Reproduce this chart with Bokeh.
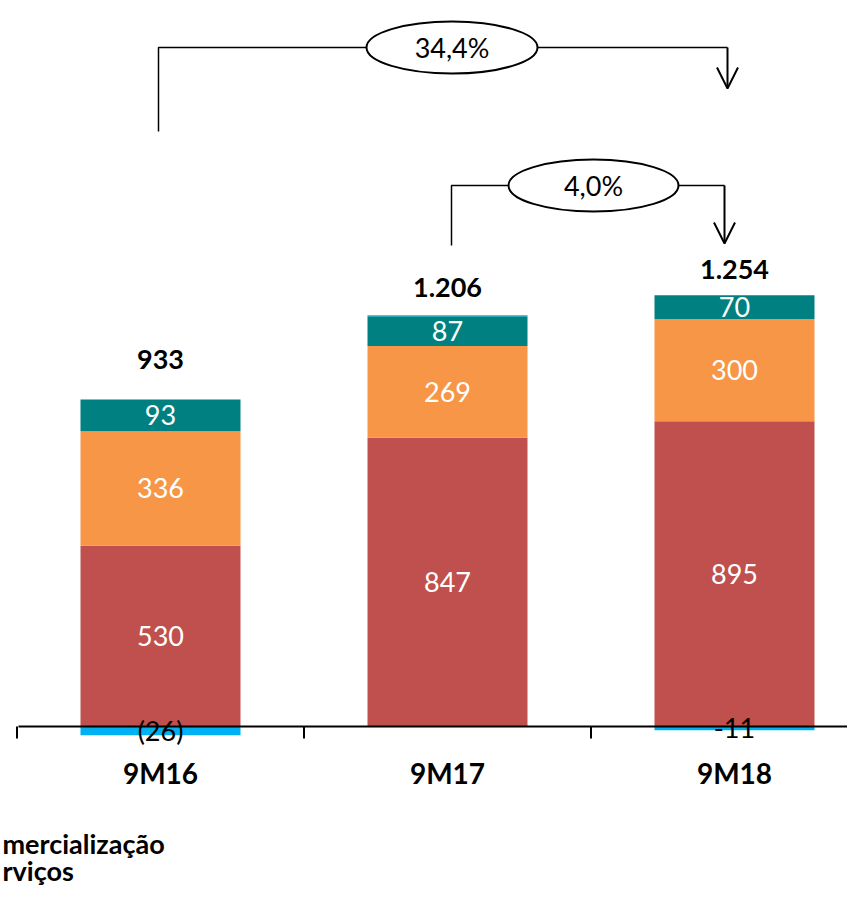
from bokeh.plotting import figure
from bokeh.models import Range1d, Arrow, OpenHead, ColumnDataSource
from bokeh.core.properties import value
from bokeh.embed import file_html
from bokeh.resources import INLINE

# ---------------- data ----------------
categories = ["9M16", "9M17", "9M18"]
seg_red = [530, 847, 895]
seg_orange = [336, 269, 300]
seg_teal = [93, 87, 70]
seg_blue = [-26, 3, -11]
blue_labels = ["(26)", "", "-11"]
growth_labels = ["34,4%", "4,0%"]
legend_texts = ["mercialização", "rviços"]

# ---------------- styles ----------------
C_RED = "#C0504D"
C_ORANGE = "#F79646"
C_TEAL = "#008080"
C_BLUE = "#00B0F0"
FONT = "Lato"

W, H = 847, 890
# pixel geometry (picture coordinates)
X0, DX = 160.0, 287.0      # centre of first category, spacing
Y0, SY = 726.0, 0.341      # baseline pixel, pixels per unit
PAGE_L, PAGE_T = 0, 0

def px_x(px):
    return (px - X0) / DX

def px_y(py):
    return (Y0 - py) / SY

p = figure(width=W, height=H, output_backend="svg", toolbar_location=None,
           x_range=Range1d(px_x(PAGE_L), px_x(PAGE_L + W)),
           y_range=Range1d(px_y(PAGE_T + H), px_y(PAGE_T)),
           min_border=0, outline_line_color=None)
p.axis.visible = False
p.grid.visible = False
p.background_fill_color = "white"

n = len(categories)
xs = list(range(n))
bw = 160 / DX

red_bot = [0] * n
red_top = seg_red[:]
or_bot = red_top[:]
or_top = [a + b for a, b in zip(or_bot, seg_orange)]
te_bot = or_top[:]
te_top = [a + b for a, b in zip(te_bot, seg_teal)]
bl_bot = [0 if v < 0 else t for v, t in zip(seg_blue, te_top)]
bl_top = [v if v < 0 else t + v for v, t in zip(seg_blue, te_top)]
totals = [r + o + t + b for r, o, t, b in zip(seg_red, seg_orange, seg_teal, seg_blue)]

for bot, top, col in [(red_bot, red_top, C_RED), (or_bot, or_top, C_ORANGE),
                      (te_bot, te_top, C_TEAL), (bl_bot, bl_top, C_BLUE)]:
    src = ColumnDataSource(dict(x=xs, bottom=bot, top=top))
    p.vbar(x="x", bottom="bottom", top="top", width=bw, source=src,
           fill_color=col, line_color=None)

# segment labels (white)
for bot, top, vals in [(red_bot, red_top, seg_red), (or_bot, or_top, seg_orange),
                       (te_bot, te_top, seg_teal)]:
    src = ColumnDataSource(dict(x=xs, y=[(a + b) / 2 for a, b in zip(bot, top)],
                                t=[str(v) for v in vals]))
    p.text(x="x", y="y", text="t", source=src, text_align="center",
           text_baseline="middle", text_color="white", text_font=value(FONT),
           text_font_size="27px")

# axis line and ticks
p.segment(x0=[px_x(18)], y0=[0], x1=[n], y1=[0], line_color="black", line_width=2)
tick_x = [i - 0.5 for i in range(n)]
p.segment(x0=tick_x, y0=[0] * n, x1=tick_x, y1=[px_y(Y0 + 12)] * n,
          line_color="black", line_width=2)

# blue (negative) labels in black
src = ColumnDataSource(dict(x=xs, y=[(a + b) / 2 for a, b in zip(bl_bot, bl_top)], t=blue_labels))
p.text(x="x", y="y", text="t", source=src, text_align="center", text_baseline="middle",
       text_color="black", text_font=value(FONT), text_font_size="27px")

# totals
tot_offsets = [40, 28, 26]
def fmt(v):
    return f"{v:,}".replace(",", ".")
src = ColumnDataSource(dict(x=xs, y=[max(t1, t2) + o / SY for t1, t2, o in zip(te_top, bl_top, tot_offsets)],
                            t=[fmt(v) for v in totals]))
p.text(x="x", y="y", text="t", source=src, text_align="center", text_baseline="middle",
       text_color="black", text_font=value(FONT), text_font_style="bold", text_font_size="27px")

# category labels
p.text(x=xs, y=[px_y(772)] * n, text=categories, text_align="center", text_baseline="middle",
       text_color="black", text_font=value(FONT), text_font_style="bold", text_font_size="28px")

# legend (cropped in the reference)
p.text(x=[px_x(PAGE_L + 2)] * 2, y=[px_y(843), px_y(870)], text=legend_texts, text_align="left",
       text_baseline="alphabetic", text_color="black", text_font=value(FONT),
       text_font_style="bold", text_font_size="27px")

# growth brackets
def bracket(x_left, y_left_bottom, y_top, x_right, y_tip, ex, ew, eh, label):
    yt = px_y(y_top)
    p.line(x=[px_x(x_left), px_x(x_left), px_x(x_right), px_x(x_right)],
           y=[px_y(y_left_bottom), yt, yt, yt], line_color="black", line_width=1.5)
    p.add_layout(Arrow(end=OpenHead(size=21, line_width=2, line_color="black"),
                       x_start=px_x(x_right), y_start=yt, x_end=px_x(x_right), y_end=px_y(y_tip),
                       line_width=2, line_color="black"))
    p.ellipse(x=[px_x(ex)], y=[yt], width=[ew / DX], height=[eh / SY],
              fill_color="white", line_color="black", line_width=2)
    p.text(x=[px_x(ex)], y=[yt], text=[label], text_align="center", text_baseline="middle",
           text_color="black", text_font=value(FONT), text_font_size="27px")

bracket(158, 131, 47, 727, 88, 451.5, 171, 52, growth_labels[0])
bracket(451, 245, 185, 724, 243, 593, 170, 52, growth_labels[1])

open("out.html", "w").write(file_html(p, INLINE))
